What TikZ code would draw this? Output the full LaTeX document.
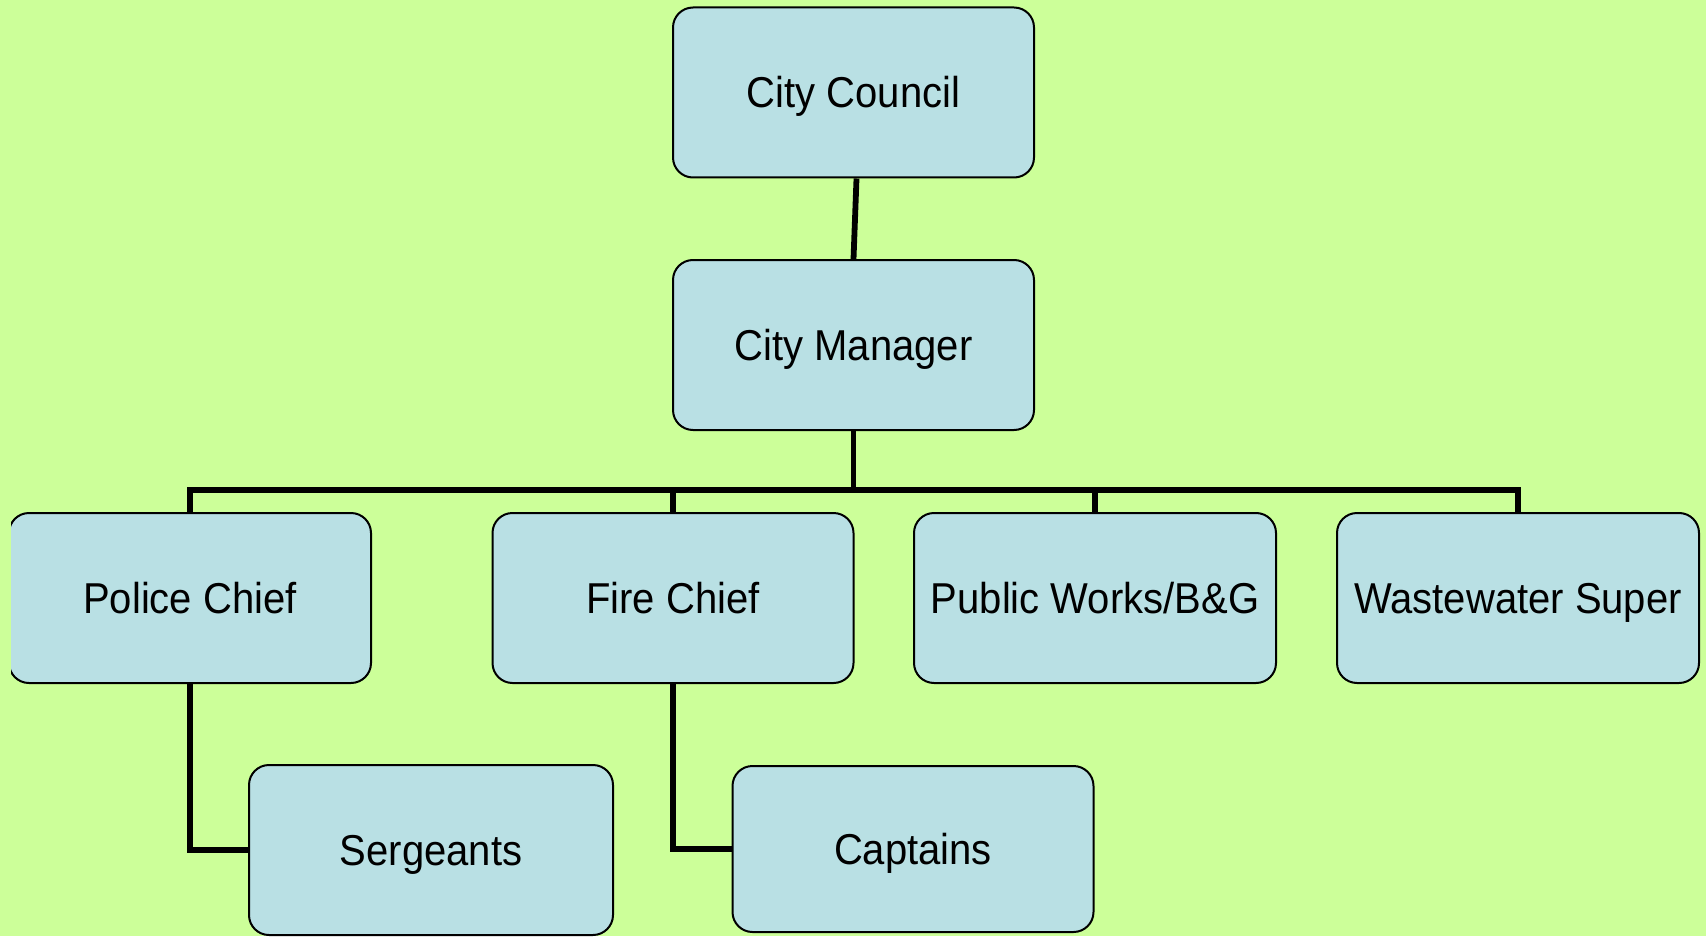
\documentclass[tikz,border=0pt]{standalone}
\usepackage{fontspec}
\usepackage{graphicx}
\setmainfont{Liberation Sans}
\definecolor{bgc}{RGB}{204,255,153}
\definecolor{boxc}{RGB}{185,224,228}
\newcommand\tallt[1]{\scalebox{1}[1.08]{#1}}
\tikzset{
  orgbox/.style={draw=black, line width=1pt, fill=boxc, rounded corners=10pt,
    rectangle, inner sep=0pt, minimum width=180.5pt, minimum height=85pt,
    text height=15.4pt, text depth=0pt,
    font=\fontsize{20pt}{24pt}\selectfont},
  conn/.style={draw=black, line width=2.9pt}
}
\begin{document}
\begin{tikzpicture}[x=0.5pt, y=-0.5pt]
\useasboundingbox (0,0) rectangle (1706,936);
\fill[bgc] (0,0) rectangle (1706,936);
\begin{scope}
\clip (11,0) rectangle (1706,936);
\node[orgbox] (cc) at (853.5,92.5) {\tallt{City Council}};
\node[orgbox] (cm) at (853.5,345) {\tallt{City Manager}};
\node[orgbox, minimum width=181pt] (pc) at (190,598) {\tallt{Police Chief}};
\node[orgbox] (fc) at (673,598) {\tallt{Fire Chief}};
\node[orgbox, minimum width=181pt] (pw) at (1095,598) {\tallt{Public Works/B\&G}};
\node[orgbox, minimum width=181pt] (ww) at (1518,598) {\tallt{Wastewater Super}};
\node[orgbox, minimum width=182pt] (sg) at (431,850) {\tallt{Sergeants}};
\node[orgbox, minimum height=83pt] (cp) at (913,849) {\tallt{Captains}};
\coordinate (bus) at (853.5,490);
\draw[conn] ([xshift=1.5pt]cc.south) -- (cm.north);
\draw[conn] (cm.south) -- (bus);
\draw[conn] (pc.north) -- (pc.north |- bus) -- (ww.north |- bus) -- (ww.north);
\draw[conn] (fc.north) -- (fc.north |- bus);
\draw[conn] (pw.north) -- (pw.north |- bus);
\draw[conn] (pc.south) |- (sg.west);
\draw[conn] (fc.south) |- (cp.west);
\end{scope}
\end{tikzpicture}
\end{document}
